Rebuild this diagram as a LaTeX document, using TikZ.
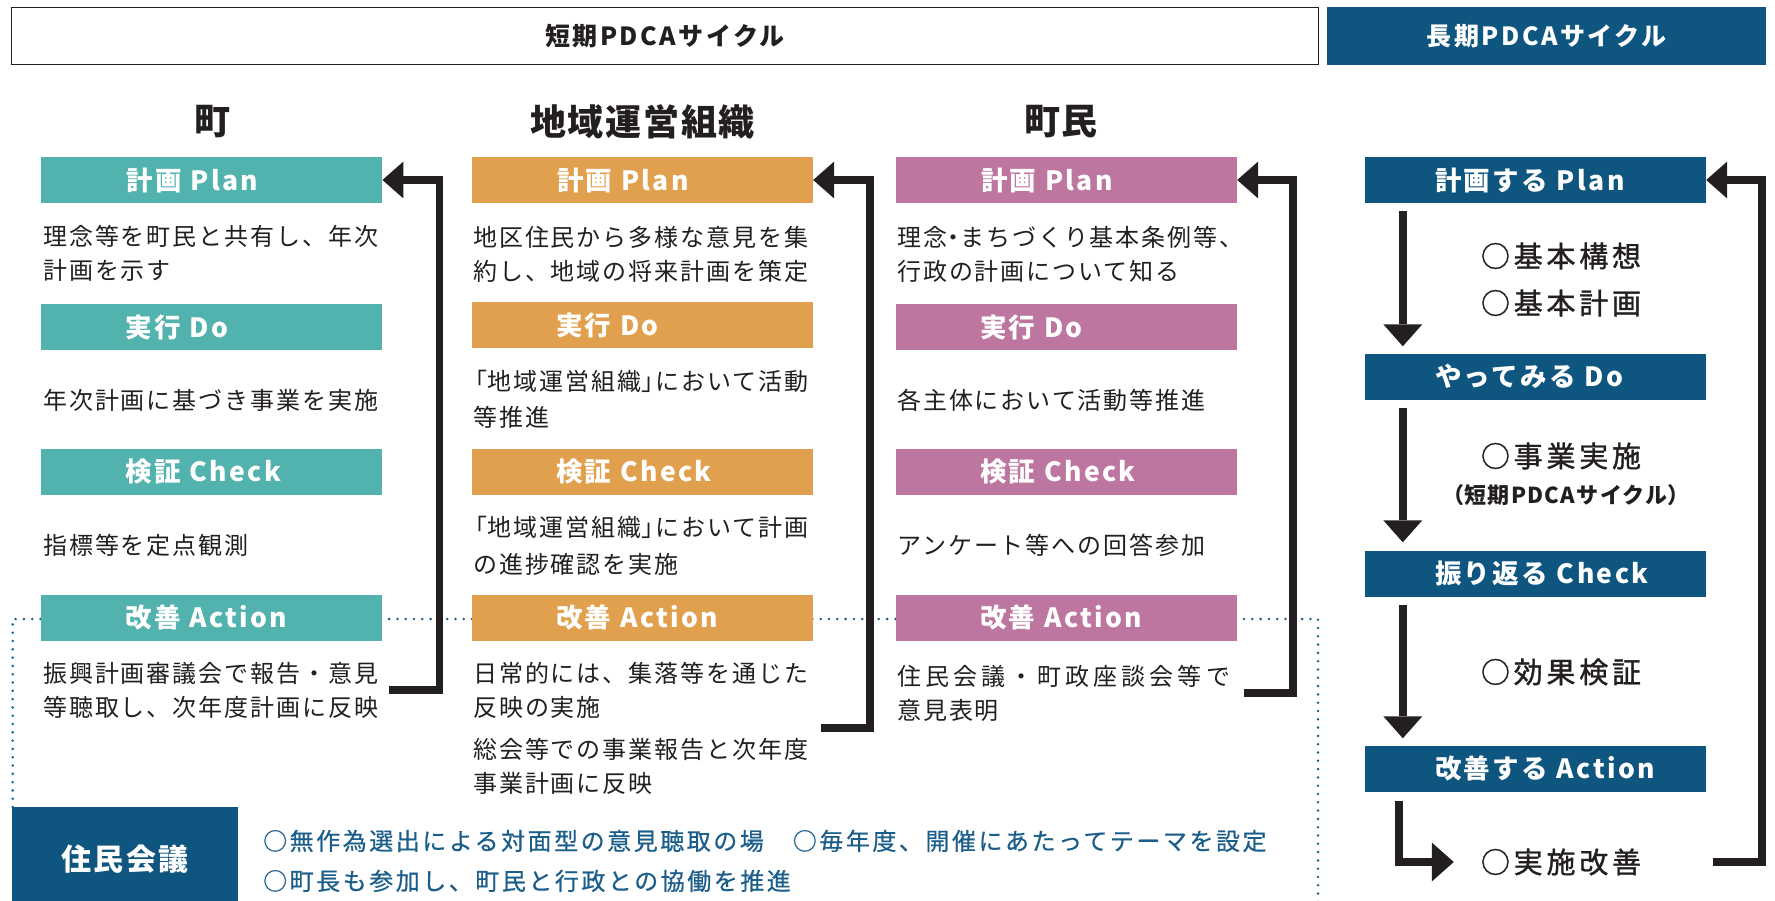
\documentclass[tikz,border=0pt]{standalone}
\usepackage{fontspec}
\setmainfont{Noto Sans CJK JP}
\usetikzlibrary{arrows.meta,calc}
\definecolor{cteal}{RGB}{82,178,173}
\definecolor{corange}{RGB}{225,160,78}
\definecolor{cpink}{RGB}{189,118,159}
\definecolor{cnavy}{RGB}{14,85,128}
\definecolor{ink}{RGB}{35,31,32}
\definecolor{cblue}{RGB}{28,94,138}
\newcommand\jpdot{\makebox[0.55em]{・}}
\newcommand\jpopen{\makebox[0.6em][r]{「}}
\newcommand\jpclose{\makebox[0.6em][l]{」}}
\newcommand\jplp{\makebox[0.6em][r]{（}}
\newcommand\jprp{\makebox[0.6em][l]{）}}
\begin{document}
\begin{tikzpicture}[x=1pt,y=-1pt,
  body/.style={inner sep=0pt, anchor=base west, align=left, text=ink,
    font=\fontsize{24}{34}\selectfont\addfontfeature{LetterSpace=8}},
  bar/.style={inner sep=0pt, minimum height=46pt, text width=341pt, align=left, text=white,
    font=\fontsize{26.5}{30}\selectfont\bfseries\addfontfeature{LetterSpace=9}},
  hdr/.style={inner sep=0pt, font=\fontsize{25}{30}\selectfont\bfseries\addfontfeature{LetterSpace=10}},
  ttl/.style={inner sep=0pt, text=ink, font=\fontsize{36}{40}\selectfont\bfseries\addfontfeature{LetterSpace=5}},
  lng/.style={inner sep=0pt, text=ink, font=\fontsize{29}{34}\selectfont\addfontfeature{LetterSpace=13,FakeBold=1.2}},
  lngs/.style={inner sep=0pt, text=ink, font=\fontsize{22}{26}\selectfont\bfseries\addfontfeature{LetterSpace=6}},
  note/.style={inner sep=0pt, anchor=base west, text=cblue, font=\fontsize{24}{30}\selectfont\addfontfeature{LetterSpace=10.5,FakeBold=0.6}},
  fb/.style={draw=ink, line width=7.5pt, -{Triangle[length=21pt,width=37pt,line width=0pt]}},
  dn/.style={draw=ink, line width=7.5pt, -{Triangle[length=22pt,width=39pt,line width=0pt]}},
  dotline/.style={draw=cblue, line width=2.8pt, line cap=round, dash pattern=on 0pt off 8.3pt}
]
\useasboundingbox (0,0) rectangle (1775,901);

% dotted boundary
\coordinate (dA) at (12.7,807);
\coordinate (dB) at (12.7,619);
\coordinate (dC) at (1318,619);
\coordinate (dD) at (1318,905);
\draw[dotline] (dA) -- (dB) -- (dC) -- (dD);

% headers
\node[hdr, draw=ink, line width=1.4pt, minimum width=1307pt, minimum height=57pt, text=ink] (HS) at (665,36) {短期PDCAサイクル};
\node[hdr, fill=cnavy, text=white, minimum width=439pt, minimum height=58pt] (HL) at (1546.5,36) {長期PDCAサイクル};

% titles
\node[ttl] (T1) at (212,122) {町};
\node[ttl] (T2) at (642.5,122) {地域運営組織};
\node[ttl] (T3) at (1061,122) {町民};

% column 1 (multi-line nodes are placed by the baseline of their last line)
\node[bar, fill=cteal] (P1) at (211.75,180) {\hspace*{85pt}計画 Plan};
\node[bar, fill=cteal] (D1) at (211.75,327) {\hspace*{84pt}実行 Do};
\node[bar, fill=cteal] (C1) at (211.75,472) {\hspace*{84pt}検証 Check};
\node[bar, fill=cteal] (A1) at (211.75,617.5) {\hspace*{84pt}改善 Action};
\node[body] (t1p) at (43,280) {理念等を町民と共有し、年次\\計画を示す};
\node[body] (t1d) at (43,409) {年次計画に基づき事業を実施};
\node[body] (t1c) at (43,554) {指標等を定点観測};
\node[body] (t1a) at (43,716) {振興計画審議会で報告・意見\\等聴取し、次年度計画に反映};

% column 2
\node[bar, fill=corange] (P2) at (642.5,180) {\hspace*{85pt}計画 Plan};
\node[bar, fill=corange] (D2) at (642.5,325) {\hspace*{84pt}実行 Do};
\node[bar, fill=corange] (C2) at (642.5,471.5) {\hspace*{84pt}検証 Check};
\node[bar, fill=corange] (A2) at (642.5,617.5) {\hspace*{84pt}改善 Action};
\node[body] (t2p) at (473,280.5) {地区住民から多様な意見を集\\約し、地域の将来計画を策定};
\node[body] (t2d) at (473,426) {\jpopen 地域運営組織\jpclose において活動\\[2pt]等推進};
\node[body] (t2c) at (473,573) {\jpopen 地域運営組織\jpclose において計画\\[3pt]の進捗確認を実施};
\node[body] (t2a) at (473,792) {日常的には、集落等を通じた\\反映の実施\\[8pt]総会等での事業報告と次年度\\事業計画に反映};

% column 3
\node[bar, fill=cpink] (P3) at (1066.5,180) {\hspace*{85pt}計画 Plan};
\node[bar, fill=cpink] (D3) at (1066.5,327) {\hspace*{84pt}実行 Do};
\node[bar, fill=cpink] (C3) at (1066.5,472) {\hspace*{84pt}検証 Check};
\node[bar, fill=cpink] (A3) at (1066.5,617.5) {\hspace*{84pt}改善 Action};
\node[body] (t3p) at (897,280.5) {理念\jpdot まちづくり基本条例等、\\行政の計画について知る};
\node[body] (t3d) at (897,409) {各主体において活動等推進};
\node[body] (t3c) at (897,554) {アンケート等への回答参加};
\node[body] (t3a) at (897,719) {{\addfontfeature{LetterSpace=17}住民会議・町政座談会等で}\\意見表明};

% column 4 (long cycle)
\node[bar, fill=cnavy] (P4) at (1535.5,180) {\hspace*{70pt}計画する Plan};
\node[bar, fill=cnavy] (D4) at (1535.5,376.5) {\hspace*{70pt}やってみる Do};
\node[bar, fill=cnavy] (C4) at (1535.5,573.5) {\hspace*{70pt}振り返る Check};
\node[bar, fill=cnavy] (A4) at (1535.5,768.5) {\hspace*{70pt}改善する Action};
\node[lng] (k1) at (1561,256) {○基本構想};
\node[lng] (k2) at (1561,303) {○基本計画};
\node[lng] (k3) at (1561,456) {○事業実施};
\node[lngs] (k4) at (1566,495) {\jplp 短期PDCAサイクル\jprp};
\node[lng] (k5) at (1561,672) {○効果検証};
\node[lng] (k6) at (1561,862) {○実施改善};

% residents' meeting
\node[fill=cnavy, inner sep=0pt, minimum width=226pt, minimum height=104pt, text=white,
  font=\fontsize{30}{34}\selectfont\bfseries\addfontfeature{LetterSpace=7}] (J) at (125,859) {住民会議};
\node[note] (n1) at (263,850) {○無作為選出による対面型の意見聴取の場　○毎年度、開催にあたってテーマを設定};
\node[note] (n2) at (263,890) {○町長も参加し、町民と行政との協働を推進};

% feedback arrows (short cycle)
\draw[fb] ($(t1a.east -| P1.east)+(7,0)$) -| ($(P1.east)+(57,0)$) -- (P1.east);
\draw[fb] ($(t2a.east -| P2.east)+(8,0)$) -| ($(P2.east)+(57,0)$) -- (P2.east);
\draw[fb] ($(t3a.east -| P3.east)+(7,0)$) -| ($(P3.east)+(56,0)$) -- (P3.east);

% long cycle arrows
\draw[dn] ($(P4.south west)+(38,8)$) -- ($(D4.north west)+(38,-7)$);
\draw[dn] ($(D4.south west)+(38,8)$) -- ($(C4.north west)+(38,-8)$);
\draw[dn] ($(C4.south west)+(38,8)$) -- ($(A4.north west)+(38,-7)$);
\draw[dn] ($(A4.south west)+(34,9)$) |- ($(k6.west)+(-27,0)$);
\draw[fb] ($(k6.east -| A4.east)+(7,0)$) -| ($(P4.east)+(56,0)$) -- (P4.east);
\end{tikzpicture}
\end{document}
